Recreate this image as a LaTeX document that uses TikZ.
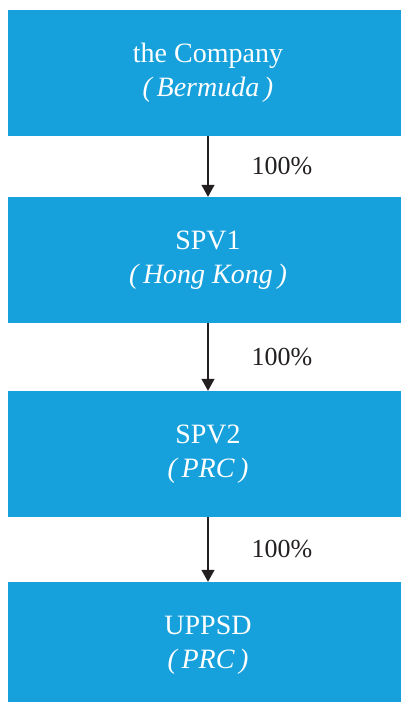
\documentclass[tikz,border=0pt]{standalone}
\usepackage{fontspec}
\setmainfont{Liberation Serif}
\usetikzlibrary{arrows.meta}
\definecolor{boxblue}{RGB}{23,161,220}
\definecolor{inkdark}{RGB}{35,31,32}

\begin{document}
\begin{tikzpicture}[x=1pt,y=1pt,
  entity/.style={fill=boxblue, text=white, minimum width=400pt, minimum height=126pt,
    inner sep=0pt, align=center, font=\fontsize{28}{34.5}\selectfont},
  holding/.style={-{Triangle[width=13pt,length=12pt]}, line width=1.2pt, inkdark},
  share/.style={right, inner sep=0pt, xshift=43pt, text=inkdark,
    font=\fontsize{26}{30}\selectfont}]

  \useasboundingbox (0,0) rectangle (400,-702);

  \node[entity] (company) at (208,-73)  {the Company\\\textit{(\,Bermuda\,)}};
  \node[entity] (spv1)    at (208,-260) {SPV1\\\textit{(\,Hong Kong\,)}};
  \node[entity] (spv2)    at (208,-454) {SPV2\\\textit{(\,PRC\,)}};
  \node[entity] (uppsd)   at (208,-645) {UPPSD\\\textit{(\,PRC\,)}};

  \foreach \a/\b in {company/spv1, spv1/spv2, spv2/uppsd}
    \draw[holding] (\a) -- (\b) node[share, midway] {100\%};

\end{tikzpicture}
\end{document}
